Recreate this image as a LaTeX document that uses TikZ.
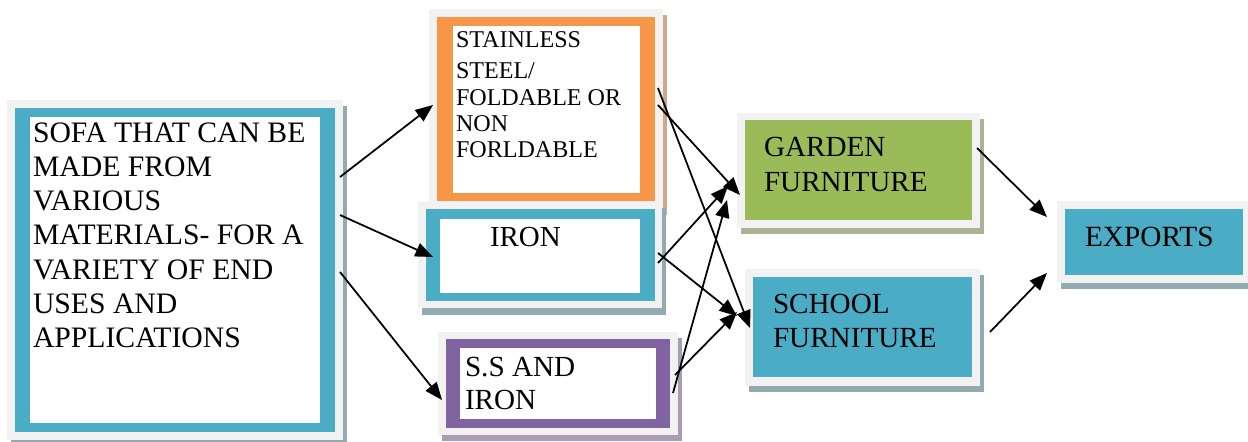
\documentclass[tikz,border=0pt]{standalone}
\usepackage{fontspec}
\setmainfont{Liberation Serif}
\usetikzlibrary{arrows.meta}
\definecolor{framegray}{HTML}{F2F2F2}
\definecolor{aqua}{HTML}{4BACC6}
\definecolor{aquashadow}{HTML}{93ABB0}
\definecolor{orangeacc}{HTML}{F79646}
\definecolor{orangeshadow}{HTML}{CFA88A}
\definecolor{purpleacc}{HTML}{8064A2}
\definecolor{purpleshadow}{HTML}{A89DB5}
\definecolor{greenacc}{HTML}{9BBB59}
\definecolor{greenshadow}{HTML}{ABB296}
\tikzset{
  txt/.style={anchor=north west, inner sep=0pt, outer sep=0pt, align=left, text=black},
  conn/.style={-{Triangle[length=10pt,width=8pt]}, line width=1pt, black},
}
\begin{document}
\begin{tikzpicture}[x=0.02cm,y=-0.02cm]
\clip (0,0) rectangle (1248,441);
\useasboundingbox (0,0) rectangle (1248,441);
\fill[white] (0,0) rectangle (1248,441);
% SOFA box
\fill[aquashadow] (11,106) rectangle (347,446);
\fill[framegray] (7,100) rectangle (343,440);
\fill[aqua] (15,108) rectangle (335,432);
\fill[white] (30,117) rectangle (320,423);
\node[txt, font=\fontsize{16.9}{19.4}\selectfont] (sofa) at (33,123)
  {SOFA THAT CAN BE\\MADE FROM\\VARIOUS\\MATERIALS- FOR A\\VARIETY OF END\\USES AND\\APPLICATIONS};
% Stainless box
\fill[orangeshadow] (433,15) rectangle (667,215);
\fill[framegray] (429,9) rectangle (663,209);
\fill[orangeacc] (437,17) rectangle (655,201);
\fill[white] (453,26) rectangle (640,193);
\node[txt, font=\fontsize{13.7}{15}\selectfont] (steel) at (456,32)
  {STAINLESS\\[2.5pt]STEEL/\\FOLDABLE OR\\NON\\FORLDABLE};
% Iron box
\fill[aquashadow] (422,208) rectangle (666,315);
\fill[framegray] (418,202) rectangle (662,308);
\fill[aqua] (426,209) rectangle (655,301);
\fill[white] (440,219) rectangle (640,293);
\node[txt, font=\fontsize{16.5}{18.7}\selectfont] (iron) at (490,227) {IRON};
% S.S and iron box
\fill[purpleshadow] (442,338) rectangle (682,441);
\fill[framegray] (438,332) rectangle (678,435);
\fill[purpleacc] (446,339) rectangle (670,428);
\fill[white] (460,348) rectangle (656,419);
\node[txt, font=\fontsize{16.6}{18.7}\selectfont] (ssiron) at (465,357) {S.S AND\\IRON};
% Garden box
\fill[greenshadow] (741,119) rectangle (984,234);
\fill[framegray] (737,113) rectangle (980,228);
\fill[greenacc] (745,120) rectangle (972,220);
\node[txt, font=\fontsize{16.6}{19.8}\selectfont] (garden) at (764,137) {GARDEN\\FURNITURE};
% School box
\fill[aquashadow] (749,275) rectangle (984,392);
\fill[framegray] (745,269) rectangle (980,386);
\fill[aqua] (753,277) rectangle (972,377);
\node[txt, font=\fontsize{16.6}{19.3}\selectfont] (school) at (773,294) {SCHOOL\\FURNITURE};
% Exports box
\fill[aquashadow] (1061,207) rectangle (1254,289);
\fill[framegray] (1057,201) rectangle (1250,283);
\fill[aqua] (1065,209) rectangle (1243,275);
\node[txt, font=\fontsize{16.7}{19.3}\selectfont] (exports) at (1085,227) {EXPORTS};
% connector end points
\coordinate (sofaA) at (340,177);
\coordinate (sofaB) at (340,215);
\coordinate (sofaC) at (340,272);
\coordinate (steelIn) at (433,105);
\coordinate (ironIn) at (433,257);
\coordinate (ssIn) at (442,400);
\coordinate (steelA) at (658,88);
\coordinate (steelB) at (658,105);
\coordinate (ironA) at (658,253);
\coordinate (ironB) at (658,263);
\coordinate (ssA) at (675,375);
\coordinate (ssB) at (673,393);
\coordinate (gardenIn1) at (740,195);
\coordinate (gardenIn2) at (728,186);
\coordinate (gardenIn3) at (727,200);
\coordinate (schoolIn1) at (750,328);
\coordinate (schoolIn2) at (737,316);
\coordinate (schoolIn3) at (737,312);
\coordinate (gardenOut) at (977,148);
\coordinate (schoolOut) at (990,332);
\coordinate (exportsIn1) at (1047,217);
\coordinate (exportsIn2) at (1047,273);
% connectors
\draw[conn] (sofaA) -- (steelIn);
\draw[conn] (sofaB) -- (ironIn);
\draw[conn] (sofaC) -- (ssIn);
\draw[conn] (steelB) -- (gardenIn1);
\draw[conn] (steelA) -- (schoolIn1);
\draw[conn] (ironB) -- (gardenIn2);
\draw[conn] (ironA) -- (schoolIn2);
\draw[conn] (ssB) -- (gardenIn3);
\draw[conn] (ssA) -- (schoolIn3);
\draw[conn] (gardenOut) -- (exportsIn1);
\draw[conn] (schoolOut) -- (exportsIn2);
\end{tikzpicture}
\end{document}
